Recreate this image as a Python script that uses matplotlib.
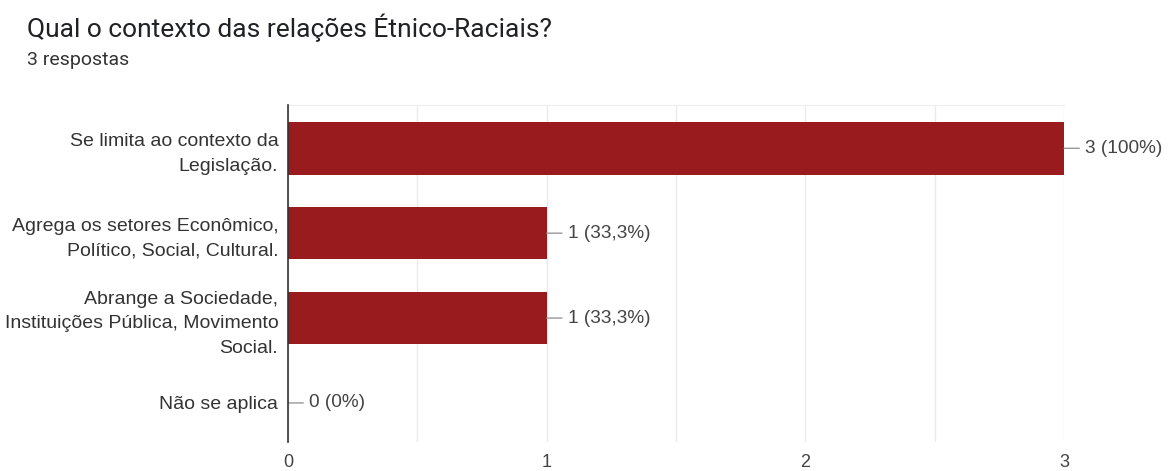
import matplotlib.pyplot as plt

plt.rcParams['font.family'] = ['Liberation Sans', 'DejaVu Sans']

categorias = ['Se limita ao contexto da\nLegislação.',
              'Agrega os setores Econômico,\nPolítico, Social, Cultural.',
              'Abrange a Sociedade,\nInstituições Pública, Movimento\nSocial.',
              'Não se aplica']
respostas = [3, 1, 1, 0]
rotulos = ['3 (100%)', '1 (33,3%)', '1 (33,3%)', '0 (0%)']
total = 3

fig = plt.figure(figsize=(11.71, 4.71), dpi=100)
ax = fig.add_axes([0.246, 0.0616, 0.6627, 0.7155])

pos = list(range(len(categorias)))
ax.barh(pos, respostas, height=0.62, color='#9a1b1e', zorder=3)

# rótulo de valor com traço curto saindo da ponta da barra
for y, v, txt in zip(pos, respostas, rotulos):
    ax.annotate(txt, xy=(v, y), xytext=(15, 0), textcoords='offset points',
                ha='left', va='center', fontsize=13.7, color='#444444',
                arrowprops=dict(arrowstyle='-', color='#999999', lw=1,
                                shrinkA=2, shrinkB=0))

ax.set_yticks(pos)
ax.set_yticklabels(categorias, fontsize=14, color='#333333', linespacing=1.6)
ax.set_ylim(3.46, -0.51)
ax.set_xlim(0, total)
ax.set_xticks([0, 1, 2, 3])
ax.set_xticklabels(['0', '1', '2', '3'], fontsize=13, color='#444444')
ax.set_xticks([0.5, 1.5, 2.5], minor=True)
ax.tick_params(axis='both', length=0, which='both')
ax.tick_params(axis='x', pad=9)
ax.tick_params(axis='y', pad=7)
ax.grid(axis='x', which='both', color='#ebebeb', lw=1, zorder=0)

for s in ['right', 'bottom']:
    ax.spines[s].set_visible(False)
ax.spines['top'].set_color('#eeeeee')
ax.spines['left'].set_color('#333333')
ax.spines['left'].set_linewidth(1.2)
ax.spines['left'].set_zorder(4)

fig.text(0.023, 0.9406, 'Qual o contexto das relações Étnico-Raciais?',
         fontsize=19, color='#202124', va='center', family=['Roboto', 'DejaVu Sans'])
fig.text(0.023, 0.8726, '3 respostas', fontsize=14, color='#333333', va='center',
         family=['Roboto', 'DejaVu Sans'])

fig.savefig('out.png', dpi=100)
